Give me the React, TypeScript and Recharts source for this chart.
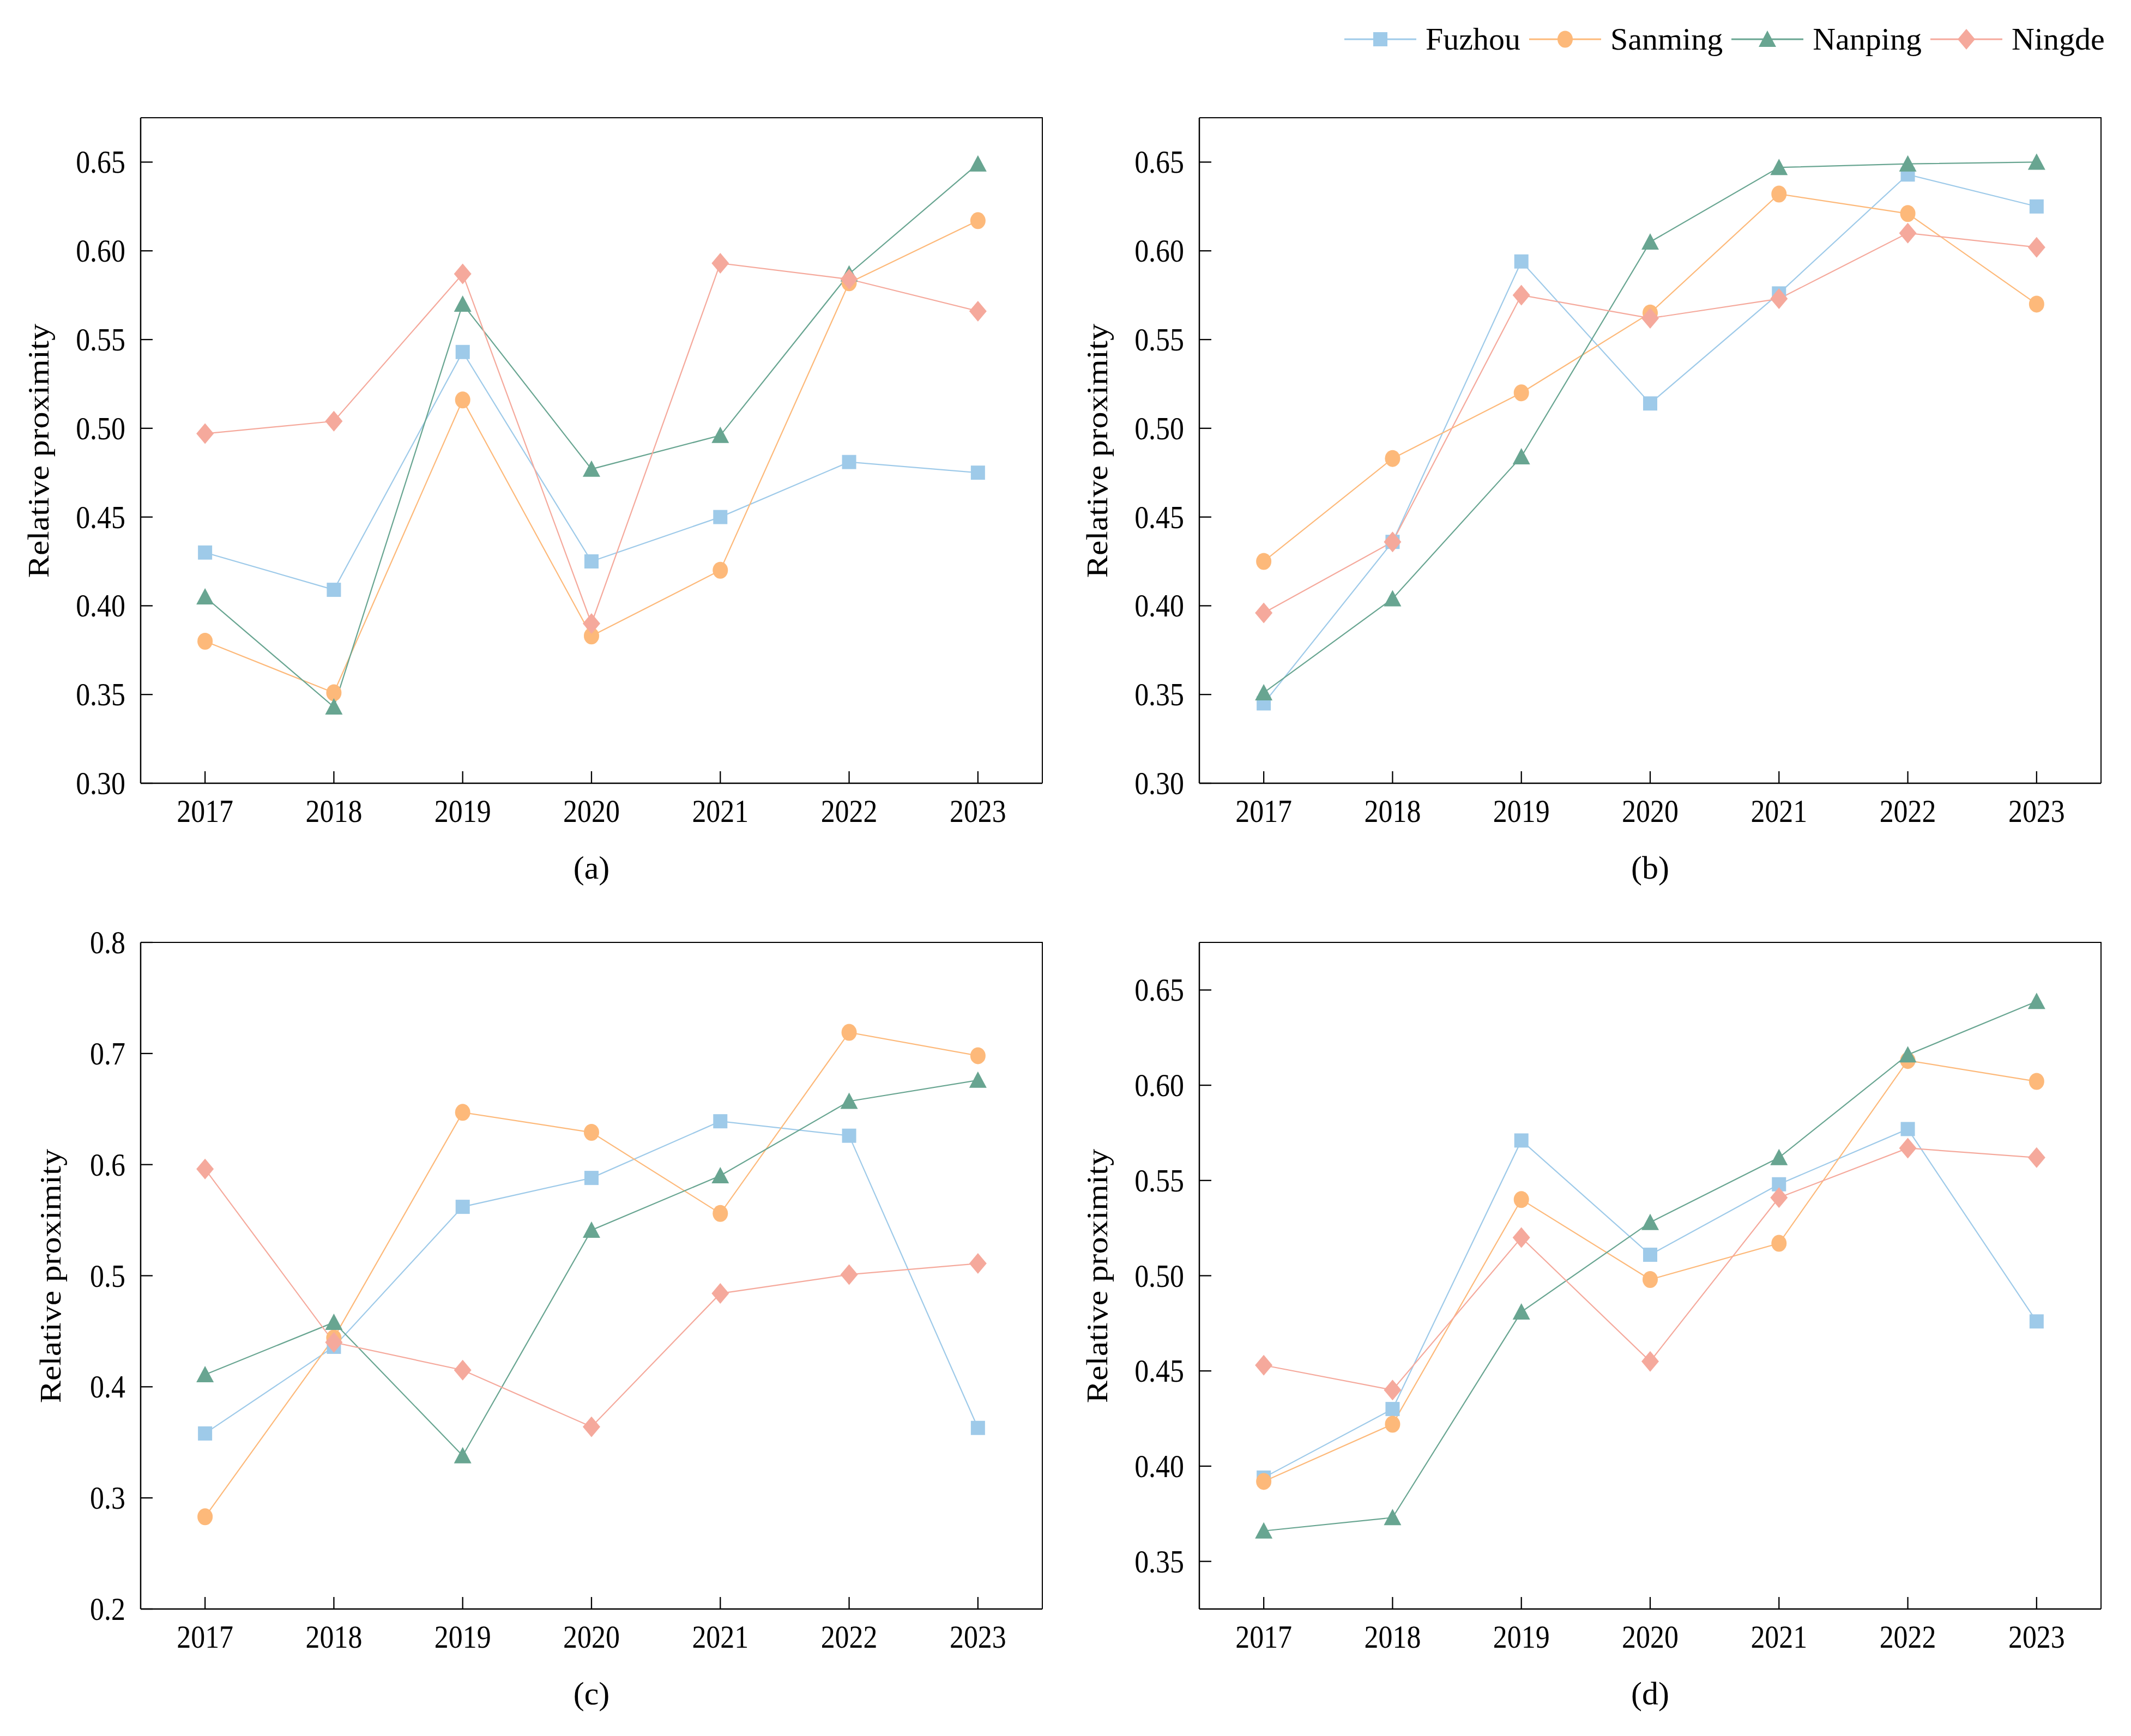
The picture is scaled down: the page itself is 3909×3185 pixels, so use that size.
import React from 'react';
import { LineChart, Line, XAxis, YAxis } from 'recharts';

const years = ['2017', '2018', '2019', '2020', '2021', '2022', '2023'];

const seriesNames = ['Fuzhou', 'Sanming', 'Nanping', 'Ningde'];
const seriesColors = ['#9ecae9', '#fdb97a', '#68a591', '#f5a99c'];
const seriesShapes = ['square', 'circle', 'triangle', 'diamond'];

// (a)
const fuzhouA = [0.430, 0.409, 0.543, 0.425, 0.450, 0.481, 0.475];
const sanmingA = [0.380, 0.351, 0.516, 0.383, 0.420, 0.582, 0.617];
const nanpingA = [0.405, 0.343, 0.570, 0.477, 0.496, 0.587, 0.649];
const ningdeA = [0.497, 0.504, 0.587, 0.390, 0.593, 0.584, 0.566];
// (b)
const fuzhouB = [0.345, 0.436, 0.594, 0.514, 0.576, 0.643, 0.625];
const sanmingB = [0.425, 0.483, 0.520, 0.565, 0.632, 0.621, 0.570];
const nanpingB = [0.351, 0.404, 0.484, 0.605, 0.647, 0.649, 0.650];
const ningdeB = [0.396, 0.436, 0.575, 0.562, 0.573, 0.610, 0.602];
// (c)
const fuzhouC = [0.358, 0.436, 0.562, 0.588, 0.639, 0.626, 0.363];
const sanmingC = [0.283, 0.444, 0.647, 0.629, 0.556, 0.719, 0.698];
const nanpingC = [0.411, 0.458, 0.338, 0.541, 0.590, 0.657, 0.676];
const ningdeC = [0.596, 0.440, 0.415, 0.364, 0.484, 0.501, 0.511];
// (d)
const fuzhouD = [0.394, 0.430, 0.571, 0.511, 0.548, 0.577, 0.476];
const sanmingD = [0.392, 0.422, 0.540, 0.498, 0.517, 0.613, 0.602];
const nanpingD = [0.366, 0.373, 0.481, 0.528, 0.562, 0.616, 0.644];
const ningdeD = [0.453, 0.440, 0.520, 0.455, 0.541, 0.567, 0.562];

const ticksAB = [0.3, 0.35, 0.4, 0.45, 0.5, 0.55, 0.6, 0.65];
const ticksC = [0.2, 0.3, 0.4, 0.5, 0.6, 0.7, 0.8];
const ticksD = [0.35, 0.4, 0.45, 0.5, 0.55, 0.6, 0.65];

const FONT = '"Liberation Serif", "Times New Roman", Times, serif';
const SQUEEZE = 0.88;

const buildRows = (cols: number[][]) =>
  years.map((year, i) => {
    const row: any = { year };
    seriesNames.forEach((n, k) => (row[n] = cols[k][i]));
    return row;
  });

const panels = [
  { tag: '(a)', L: 258, T: 216, R: 1912, B: 1437, domain: [0.3, 0.675], ticks: ticksAB, digits: 2, labelDx: 187, rows: buildRows([fuzhouA, sanmingA, nanpingA, ningdeA]) },
  { tag: '(b)', L: 2200, T: 216, R: 3854, B: 1437, domain: [0.3, 0.675], ticks: ticksAB, digits: 2, labelDx: 187, rows: buildRows([fuzhouB, sanmingB, nanpingB, ningdeB]) },
  { tag: '(c)', L: 258, T: 1729, R: 1912, B: 2952, domain: [0.2, 0.8], ticks: ticksC, digits: 1, labelDx: 165, rows: buildRows([fuzhouC, sanmingC, nanpingC, ningdeC]) },
  { tag: '(d)', L: 2200, T: 1729, R: 3854, B: 2952, domain: [0.325, 0.675], ticks: ticksD, digits: 2, labelDx: 187, rows: buildRows([fuzhouD, sanmingD, nanpingD, ningdeD]) },
];

function markerPath(shape: string, cx: number, cy: number) {
  switch (shape) {
    case 'square':
      return `M${cx - 13},${cy - 13}H${cx + 13}V${cy + 13}H${cx - 13}Z`;
    case 'triangle':
      return `M${cx},${cy - 16}L${cx + 16},${cy + 14}L${cx - 16},${cy + 14}Z`;
    case 'diamond':
      return `M${cx},${cy - 19}L${cx + 16},${cy}L${cx},${cy + 19}L${cx - 16},${cy}Z`;
    default:
      return '';
  }
}

const Marker = ({ shape, cx, cy, color }: any) =>
  shape === 'circle' ? (
    <ellipse cx={cx} cy={cy} rx={14} ry={15.5} fill={color} />
  ) : (
    <path d={markerPath(shape, cx, cy)} fill={color} />
  );

const makeDot = (shape: string, color: string) => (props: any) => {
  if (props.cx == null || props.cy == null) return <g key={props.index} />;
  return <Marker key={props.index} shape={shape} cx={props.cx} cy={props.cy} color={color} />;
};

const XTick = (props: any) => {
  const { x, y, payload } = props;
  return (
    <g>
      <line x1={x} y1={y} x2={x} y2={y - 22} stroke="#000" strokeWidth={2.3} />
      <text transform={`translate(${x},${y + 51}) scale(${SQUEEZE},1)`} textAnchor="middle" dy="0.34em" fontSize={59} fontFamily={FONT} fill="#000">
        {payload.value}
      </text>
    </g>
  );
};

const makeYTick = (digits: number) => (props: any) => {
  const { x, y, payload } = props;
  return (
    <g>
      <line x1={x} y1={y} x2={x + 22} y2={y} stroke="#000" strokeWidth={2.3} />
      <text transform={`translate(${x - 28},${y}) scale(${SQUEEZE},1)`} textAnchor="end" dy="0.34em" fontSize={59} fontFamily={FONT} fill="#000">
        {Number(payload.value).toFixed(digits)}
      </text>
    </g>
  );
};

const M = { top: 66, left: 138, right: 38, bottom: 63 };
const Y_W = 120;
const X_H = 100;
const LW = 2.5;
const frame = { stroke: '#000', strokeWidth: LW };

function Panel({ p }: { p: (typeof panels)[number] }) {
  const plotW = p.R - p.L;
  const plotH = p.B - p.T;
  const w = plotW + M.left + Y_W + M.right;
  const h = plotH + M.top + M.bottom + X_H;
  const pad = plotW / 14;
  return (
    <>
      <div style={{ position: 'absolute', left: p.L - M.left - Y_W, top: p.T - M.top }}>
        <LineChart width={w} height={h} data={p.rows} margin={M}>
          <XAxis
            dataKey="year"
            interval={0}
            padding={{ left: pad, right: pad }}
            axisLine={frame}
            tickLine={false}
            tickSize={0}
            tickMargin={0}
            height={X_H}
            tick={<XTick />}
          />
          <YAxis
            type="number"
            domain={p.domain}
            ticks={p.ticks}
            interval={0}
            allowDataOverflow
            axisLine={frame}
            tickLine={false}
            tickSize={0}
            tickMargin={0}
            width={Y_W}
            tick={makeYTick(p.digits)}
          />
          {seriesNames.map((n, k) => (
            <Line
              key={n}
              dataKey={n}
              stroke={seriesColors[k]}
              strokeWidth={2.2}
              dot={makeDot(seriesShapes[k], seriesColors[k])}
              activeDot={false}
              isAnimationActive={false}
            />
          ))}
        </LineChart>
      </div>
      {/* top and right sides of the frame */}
      <div
        style={{
          position: 'absolute',
          left: p.L,
          top: p.T - LW / 2,
          width: plotW + LW / 2,
          height: plotH + LW / 2,
          boxSizing: 'border-box',
          borderTop: `${LW}px solid #000`,
          borderRight: `${LW}px solid #000`,
          pointerEvents: 'none',
        }}
      />
      <div
        style={{
          position: 'absolute',
          left: p.L - p.labelDx,
          top: (p.T + p.B) / 2,
          transform: `translate(-50%, -50%) rotate(-90deg) scale(1, ${SQUEEZE})`,
          fontFamily: FONT,
          fontSize: 62,
          whiteSpace: 'nowrap',
          lineHeight: 1,
          color: '#000',
        }}
      >
        Relative proximity
      </div>
      <div
        style={{
          position: 'absolute',
          left: (p.L + p.R) / 2,
          top: p.B + 155,
          transform: 'translate(-50%, -50%)',
          fontFamily: FONT,
          fontSize: 60,
          lineHeight: 1,
          color: '#000',
        }}
      >
        {p.tag}
      </div>
    </>
  );
}

function Legend() {
  return (
    <div style={{ position: 'absolute', left: 2466, top: 72, transform: 'translateY(-50%)', display: 'flex', alignItems: 'center' }}>
      {seriesNames.map((n, k) => (
        <div key={n} style={{ display: 'flex', alignItems: 'center', marginRight: 16 }}>
          <svg width={132} height={40} style={{ marginRight: 17, display: 'block' }}>
            <line x1={0} y1={20} x2={132} y2={20} stroke={seriesColors[k]} strokeWidth={3} />
            <Marker shape={seriesShapes[k]} cx={66} cy={20} color={seriesColors[k]} />
          </svg>
          <span style={{ fontFamily: FONT, fontSize: 58, lineHeight: 1, color: '#000' }}>{n}</span>
        </div>
      ))}
    </div>
  );
}

export default function App() {
  return (
    <div style={{ position: 'absolute', left: 0, top: 0, width: 3909, height: 3185, background: '#fff', overflow: 'hidden' }}>
      <Legend />
      {panels.map((p) => (
        <Panel key={p.tag} p={p} />
      ))}
    </div>
  );
}
